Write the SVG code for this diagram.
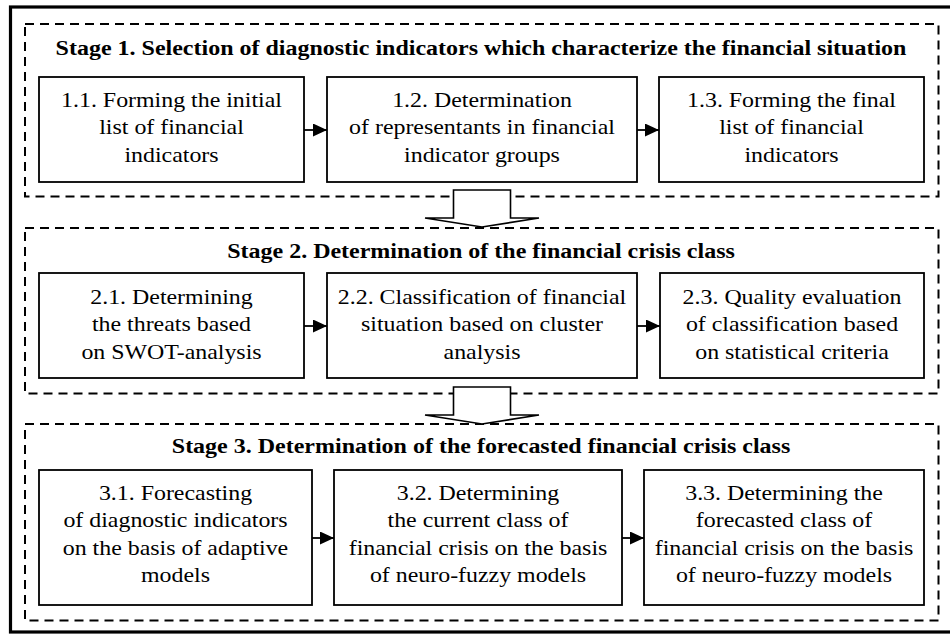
<svg xmlns="http://www.w3.org/2000/svg" width="950" height="637" viewBox="0 0 950 637">
  <defs>
    <style>
      .frame { fill: none; stroke: #000; stroke-width: 3.2; }
      .stage { fill: none; stroke: #000; stroke-width: 2; stroke-dasharray: 9 6; }
      .box { fill: #fff; stroke: #000; stroke-width: 1.8; }
      .flow { fill: none; stroke: #000; stroke-width: 1.8; }
      .big-arrow { fill: #fff; stroke: #000; stroke-width: 1.6; stroke-linejoin: miter; }
      .title { font-family: "Liberation Serif", "Times New Roman", serif; font-size: 20px; font-weight: bold; text-anchor: middle; fill: #000; }
      .label { font-family: "Liberation Serif", "Times New Roman", serif; font-size: 20px; text-anchor: middle; fill: #000; }
    </style>
    <marker id="head" viewBox="0 0 14 13" refX="14" refY="6.5" markerWidth="14" markerHeight="13" markerUnits="userSpaceOnUse" orient="auto">
      <path d="M0,0 L14,6.5 L0,13 Z" fill="#000"/>
    </marker>
  </defs>

  <rect width="950" height="637" fill="#fff"/>

  <!-- outer frame (right edge runs past the canvas) -->
  <rect class="frame" x="10.5" y="7" width="946" height="625"/>

  <!-- stage containers; lettering is widened 1.2x horizontally -->
  <g id="stage1">
    <rect class="stage" x="25" y="24" width="913.5" height="172.5"/>
    <g transform="translate(481,0) scale(1.2,1)">
      <text class="title" x="0" y="55">Stage 1. Selection of diagnostic indicators which characterize the financial situation</text>
    </g>
  </g>
  <g id="stage2">
    <rect class="stage" x="25" y="228" width="913.5" height="165.5"/>
    <g transform="translate(481,0) scale(1.2,1)">
      <text class="title" x="0" y="258">Stage 2. Determination of the financial crisis class</text>
    </g>
  </g>
  <g id="stage3">
    <rect class="stage" x="25" y="424" width="913.5" height="196.5"/>
    <g transform="translate(481,0) scale(1.2,1)">
      <text class="title" x="0" y="453">Stage 3. Determination of the forecasted financial crisis class</text>
    </g>
  </g>

  <!-- stage 1 steps -->
  <g id="n11">
    <rect class="box" x="39" y="77" width="265" height="105"/>
    <g transform="translate(171.5,0) scale(1.195,1)">
      <text class="label" x="0" y="107">1.1. Forming the initial</text>
      <text class="label" x="0" y="134.5">list of financial</text>
      <text class="label" x="0" y="162">indicators</text>
    </g>
  </g>
  <g id="n12">
    <rect class="box" x="327" y="77" width="310" height="105"/>
    <g transform="translate(482,0) scale(1.195,1)">
      <text class="label" x="0" y="107">1.2. Determination</text>
      <text class="label" x="0" y="134.5">of representants in financial</text>
      <text class="label" x="0" y="162">indicator groups</text>
    </g>
  </g>
  <g id="n13">
    <rect class="box" x="659" y="77" width="265" height="105"/>
    <g transform="translate(791.5,0) scale(1.195,1)">
      <text class="label" x="0" y="107">1.3. Forming the final</text>
      <text class="label" x="0" y="134.5">list of financial</text>
      <text class="label" x="0" y="162">indicators</text>
    </g>
  </g>

  <!-- stage 2 steps -->
  <g id="n21">
    <rect class="box" x="39" y="273" width="265" height="105"/>
    <g transform="translate(171.5,0) scale(1.195,1)">
      <text class="label" x="0" y="304">2.1. Determining</text>
      <text class="label" x="0" y="331.5">the threats based</text>
      <text class="label" x="0" y="359">on SWOT-analysis</text>
    </g>
  </g>
  <g id="n22">
    <rect class="box" x="327" y="273" width="310" height="105"/>
    <g transform="translate(482,0) scale(1.195,1)">
      <text class="label" x="0" y="304">2.2. Classification of financial</text>
      <text class="label" x="0" y="331.5">situation based on cluster</text>
      <text class="label" x="0" y="359">analysis</text>
    </g>
  </g>
  <g id="n23">
    <rect class="box" x="660" y="273" width="264" height="105"/>
    <g transform="translate(792,0) scale(1.195,1)">
      <text class="label" x="0" y="304">2.3. Quality evaluation</text>
      <text class="label" x="0" y="331.5">of classification based</text>
      <text class="label" x="0" y="359">on statistical criteria</text>
    </g>
  </g>

  <!-- stage 3 steps -->
  <g id="n31">
    <rect class="box" x="39" y="470" width="273" height="135"/>
    <g transform="translate(175.5,0) scale(1.195,1)">
      <text class="label" x="0" y="500">3.1. Forecasting</text>
      <text class="label" x="0" y="527.5">of diagnostic indicators</text>
      <text class="label" x="0" y="555">on the basis of adaptive</text>
      <text class="label" x="0" y="582.5">models</text>
    </g>
  </g>
  <g id="n32">
    <rect class="box" x="334" y="470" width="288" height="135"/>
    <g transform="translate(478,0) scale(1.195,1)">
      <text class="label" x="0" y="500">3.2. Determining</text>
      <text class="label" x="0" y="527.5">the current class of</text>
      <text class="label" x="0" y="555">financial crisis on the basis</text>
      <text class="label" x="0" y="582.5">of neuro-fuzzy models</text>
    </g>
  </g>
  <g id="n33">
    <rect class="box" x="644" y="470" width="280" height="135"/>
    <g transform="translate(784,0) scale(1.195,1)">
      <text class="label" x="0" y="500">3.3. Determining the</text>
      <text class="label" x="0" y="527.5">forecasted class of</text>
      <text class="label" x="0" y="555">financial crisis on the basis</text>
      <text class="label" x="0" y="582.5">of neuro-fuzzy models</text>
    </g>
  </g>

  <!-- connectors -->
  <g id="connectors">
    <line class="flow" x1="304" y1="130" x2="327" y2="130" marker-end="url(#head)"/>
    <line class="flow" x1="637" y1="130" x2="659" y2="130" marker-end="url(#head)"/>
    <line class="flow" x1="304" y1="326" x2="327" y2="326" marker-end="url(#head)"/>
    <line class="flow" x1="637" y1="326" x2="660" y2="326" marker-end="url(#head)"/>
    <line class="flow" x1="312" y1="538" x2="334" y2="538" marker-end="url(#head)"/>
    <line class="flow" x1="622" y1="538" x2="644" y2="538" marker-end="url(#head)"/>
    <polygon class="big-arrow" points="453.5,190 510.5,190 510.5,218 539,218 482,227 425,218 453.5,218"/>
    <polygon class="big-arrow" points="453.5,387 510.5,387 510.5,415 539,415 482,424 425,415 453.5,415"/>
  </g>
</svg>
